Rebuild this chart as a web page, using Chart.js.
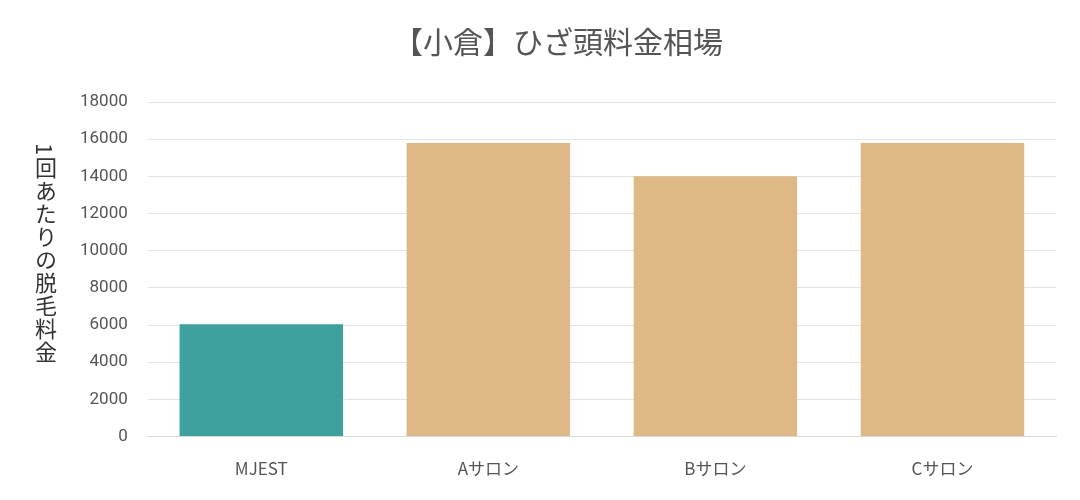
<!DOCTYPE html>
<html>
<head>
<meta charset="utf-8">
<script src="https://cdn.jsdelivr.net/npm/chart.js@4"></script>
<style>
body{margin:0;background:#fff;}
#wrap{position:relative;width:1080px;height:500px;}
#ytitle{position:absolute;left:30px;top:143px;writing-mode:vertical-rl;font-family:"Noto Sans CJK JP";font-size:22px;color:#333;letter-spacing:1px;}
</style>
</head>
<body>
<div id="wrap">
<canvas id="chart" width="1080" height="500"></canvas>
<div id="ytitle">1回あたりの脱毛料金</div>
</div>
<script>
const categories=['MJEST','Aサロン','Bサロン','Cサロン'];
const prices=[6050,15800,14000,15800];
const barColors=['#3fa19e','#deb886','#deb886','#deb886'];
const ctx=document.getElementById('chart').getContext('2d');
new Chart(ctx,{
    type:'bar',
    data:{
        labels:categories,
        datasets:[{data:prices,backgroundColor:barColors,barPercentage:0.72,categoryPercentage:1}]
    },
    options:{
        responsive:false,
        animation:false,
        layout:{padding:{left:60,right:24,top:10,bottom:7}},
        plugins:{
            legend:{display:false},
            title:{display:true,text:'【小倉】ひざ頭料金相場',color:'#555',
                font:{family:'"Noto Sans CJK JP"',size:30,weight:'normal'},padding:{top:14,bottom:42}}
        },
        scales:{
            y:{min:0,max:18000,ticks:{stepSize:2000,color:'#555',font:{family:'Roboto',size:17},padding:20,
                    callback:v=>String(v)},
                grid:{color:'#e4e4e4',drawTicks:false},border:{display:false}},
            x:{ticks:{color:'#555',font:{family:'"Noto Sans CJK JP"',size:17},padding:14},
                grid:{display:false},border:{color:'#d9d9d9'}}
        }
    }
});
</script>
</body>
</html>
